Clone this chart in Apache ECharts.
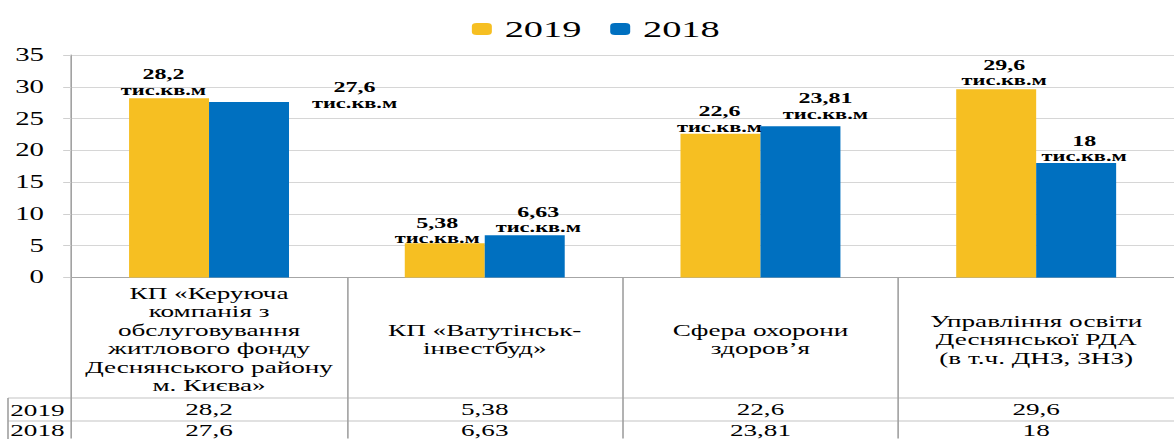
<!DOCTYPE html>
<html>
<head>
<meta charset="utf-8">
<script src="https://cdn.jsdelivr.net/npm/echarts@6/dist/echarts.min.js"></script>
<style>
  html, body { margin: 0; padding: 0; overflow: hidden; background: #fff; }
  /* the original picture is stretched sideways, so the chart is laid out narrow and scaled */
  #chart { width: 734px; height: 439px; transform: scaleX(1.5995); transform-origin: 0 0; }
</style>
</head>
<body>
<div id="chart"></div>
<script>
  var categories = [
    'КП «Керуюча\nкомпанія з\nобслуговування\nжитлового фонду\nДеснянського району\nм. Києва»',
    'КП «Ватутінськ-\nінвестбуд»',
    'Сфера охорони\nздоров’я',
    'Управління освіти\nДеснянської РДА\n(в т.ч. ДНЗ, ЗНЗ)'
  ];
  var years = ['2019', '2018'];
  var values2019 = [28.2, 5.38, 22.6, 29.6];
  var values2018 = [27.6, 6.63, 23.81, 18];
  var yTicks = [0, 5, 10, 15, 20, 25, 30, 35];
  var unit = 'тис.кв.м';

  // label nudges, as in the source picture
  var shift2019 = [[-3.5, 0], [-4.7, 3], [-0.6, 1], [5, -1]];
  var shift2018 = [[66, 9], [8.5, 0], [15.6, -4], [5, 1.5]];

  var FONT = 'Liberation Serif, serif';
  var YELLOW = '#F6BF22';
  var BLUE = '#0070C0';

  function fmt(v) {
    return String(v).replace('.', ',');
  }

  function withShift(values, shifts) {
    return values.map(function (v, i) {
      return { value: v, label: { offset: shifts[i] } };
    });
  }

  function tableAxis(values, margin) {
    return {
      type: 'category',
      data: categories,
      position: 'bottom',
      axisLine: { show: false },
      axisTick: { show: false },
      axisLabel: {
        interval: 0,
        margin: margin,
        verticalAlign: 'middle',
        fontFamily: FONT,
        fontSize: 17,
        color: '#000',
        formatter: function (val, idx) { return fmt(values[idx]); }
      }
    };
  }

  var barLabel = {
    show: true,
    position: 'top',
    distance: 0,
    formatter: function (p) { return '{v|' + fmt(p.value) + '}\n{u|' + unit + '}'; },
    rich: {
      v: { fontFamily: FONT, fontSize: 15, fontWeight: 'bold', lineHeight: 16, color: '#000' },
      u: { fontFamily: FONT, fontSize: 14, fontWeight: 'bold', lineHeight: 16, color: '#000' }
    }
  };

  var chart = echarts.init(document.getElementById('chart'), null, { renderer: 'svg' });

  var option = {
    animation: false,
    textStyle: { fontFamily: FONT },
    legend: {
      data: years,
      left: 290,
      top: 12,
      itemWidth: 12.5,
      itemHeight: 12,
      itemGap: 18,
      textStyle: { fontFamily: FONT, fontSize: 24, color: '#000', padding: [0, 0, 0, 3] }
    },
    grid: { left: 44.5, top: 55, width: 697.5, height: 223 },
    xAxis: [
      {
        type: 'category',
        data: categories,
        axisLine: { lineStyle: { color: '#a6a6a6', width: 1 } },
        axisTick: { show: true, interval: 0, length: 161, lineStyle: { color: '#a0a0a0' } },
        axisLabel: {
          interval: 0,
          margin: 62,
          verticalAlign: 'middle',
          fontFamily: FONT,
          fontSize: 17,
          lineHeight: 18.5,
          color: '#000'
        }
      },
      tableAxis(values2019, 132),
      tableAxis(values2018, 153)
    ],
    yAxis: {
      type: 'value',
      min: yTicks[0],
      max: yTicks[yTicks.length - 1],
      interval: 5,
      axisLine: { show: true, lineStyle: { color: '#a0a0a0' } },
      axisTick: { show: true, length: 5, lineStyle: { color: '#d0d0d0' } },
      splitLine: { lineStyle: { color: '#d6d6d6' } },
      axisLabel: { margin: 17, fontFamily: FONT, fontSize: 18, color: '#000' }
    },
    series: [
      {
        name: years[0],
        type: 'bar',
        barWidth: 50,
        barGap: '0%',
        itemStyle: { color: YELLOW },
        label: barLabel,
        data: withShift(values2019, shift2019)
      },
      {
        name: years[1],
        type: 'bar',
        barWidth: 50,
        barGap: '0%',
        itemStyle: { color: BLUE },
        label: barLabel,
        data: withShift(values2018, shift2018)
      }
    ],
    graphic: [
      { type: 'line', shape: { x1: 5, y1: 398, x2: 740, y2: 398 }, style: { stroke: '#c4c4c4', lineWidth: 1 } },
      { type: 'line', shape: { x1: 5, y1: 421, x2: 740, y2: 421 }, style: { stroke: '#c4c4c4', lineWidth: 1 } },
      { type: 'line', shape: { x1: 5, y1: 398, x2: 5, y2: 439 }, style: { stroke: '#a0a0a0', lineWidth: 1 } },
      { type: 'text', x: 23.4, y: 410, style: { text: years[0], font: '17px ' + FONT, fill: '#000', textAlign: 'center', textVerticalAlign: 'middle' } },
      { type: 'text', x: 23.4, y: 430, style: { text: years[1], font: '17px ' + FONT, fill: '#000', textAlign: 'center', textVerticalAlign: 'middle' } }
    ]
  };

  chart.setOption(option);
</script>
</body>
</html>
